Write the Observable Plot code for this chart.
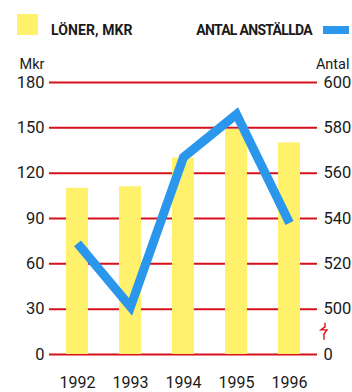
<!DOCTYPE html>
<html>
<head>
<meta charset="utf-8">
<script src="https://cdn.jsdelivr.net/npm/d3@7"></script>
<script src="https://cdn.jsdelivr.net/npm/@observablehq/plot@0.6"></script>
<style>
  html, body { margin: 0; padding: 0; background: #fff; }
  #chart { width: 352px; height: 392px; overflow: hidden; position: relative;
           font-family: Roboto, "Liberation Sans", sans-serif; color: #1a1a1a; }
  #legend { position: relative; width: 352px; height: 48px; }
  .swatch { position: absolute; }
  .ltext { position: absolute; font-weight: bold; font-size: 14px; line-height: 14px; white-space: nowrap; }
  #chart svg { display: block; }
</style>
</head>
<body>
<div id="chart">
  <div id="legend">
    <div class="swatch" style="left:17px;top:14px;width:21px;height:21px;background:#fff16c"></div>
    <div class="ltext" style="left:51px;top:22.5px;letter-spacing:0.1px">LÖNER, MKR</div>
    <div class="ltext" style="right:40px;top:22.5px;letter-spacing:-0.7px">ANTAL ANSTÄLLDA</div>
    <div class="swatch" style="left:323px;top:26px;width:26px;height:8px;background:#2b97ec"></div>
  </div>
</div>
<script>
// Annual figures 1992–1996
const years = ["1992", "1993", "1994", "1995", "1996"];
const loner = [110, 111, 130, 149, 140];          // salaries, MSEK (left axis)
const antal = [529, 501, 567, 586, 538];          // number of employees (right axis)

// Axis ticks
const leftTicks = [0, 30, 60, 90, 120, 150, 180];
const rightTicks = [0, 500, 520, 540, 560, 580, 600];

// The right axis is broken: 0 sits at the baseline, then 500–600 spans 30–180 on the left scale
const antalToY = v => v === 0 ? 0 : 30 + (v - 500) * 1.5;
const breakY = (antalToY(rightTicks[0]) + antalToY(rightTicks[1])) / 2;

const red = "#d7111b";
const fontFamily = 'Roboto, "Liberation Sans", sans-serif';

const rows = years.map((year, i) => ({year, loner: loner[i], antal: antal[i], y2: antalToY(antal[i])}));

// Small zigzag marking the break on the right axis
function axisBreak(index, scales, values, dimensions) {
  const cx = dimensions.width - dimensions.marginRight + 8;
  const cy = scales.y(breakY);
  const zig = [[0, -8.5], [0, -4.5], [-4, -1.5], [2, -1.5], [-1, 2.5], [-1, 8.5]];
  return d3.create("svg:path")
    .attr("d", d3.line()(zig.map(([dx, dy]) => [cx + dx, cy + dy])))
    .attr("fill", "none")
    .attr("stroke", red)
    .attr("stroke-width", 1.4)
    .attr("stroke-linejoin", "miter")
    .node();
}

const chart = Plot.plot({
  width: 352,
  height: 344,
  marginTop: 34,
  marginBottom: 38,
  marginLeft: 49,
  marginRight: 35,
  style: {fontFamily, fontSize: "16.5px", color: "#1a1a1a", background: "transparent"},
  x: {type: "band", domain: years, paddingInner: 0.59, paddingOuter: 0.295, label: null},
  y: {domain: [0, 180], label: null},
  marks: [
    Plot.ruleY(leftTicks, {stroke: red, strokeWidth: 2}),
    Plot.barY(rows, {x: "year", y: "loner", fill: "#fff16c"}),
    Plot.line(rows, {x: "year", y: "y2", stroke: "#2b97ec", strokeWidth: 9,
      strokeLinejoin: "miter", strokeLinecap: "butt", strokeMiterlimit: 10}),
    Plot.axisX({tickSize: 0, tickPadding: 22, fontSize: 16, label: null}),
    Plot.axisY({anchor: "left", ticks: leftTicks, tickSize: 0, tickPadding: 5, fontSize: 16.5, label: null}),
    Plot.axisY({anchor: "right", ticks: rightTicks.map(antalToY), tickFormat: (d, i) => String(rightTicks[i]),
      tickSize: 0, tickPadding: 6, fontSize: 16.5, label: null}),
    axisBreak,
    Plot.text(["Mkr"], {frameAnchor: "top-left", text: d => d, dx: -30, dy: -13.5,
      lineAnchor: "bottom", textAnchor: "start", fontSize: 14.5}),
    Plot.text(["Antal"], {frameAnchor: "top-right", text: d => d, dx: 32, dy: -13.5,
      lineAnchor: "bottom", textAnchor: "end", fontSize: 14.5})
  ]
});

document.getElementById("chart").appendChild(chart);
</script>
</body>
</html>
